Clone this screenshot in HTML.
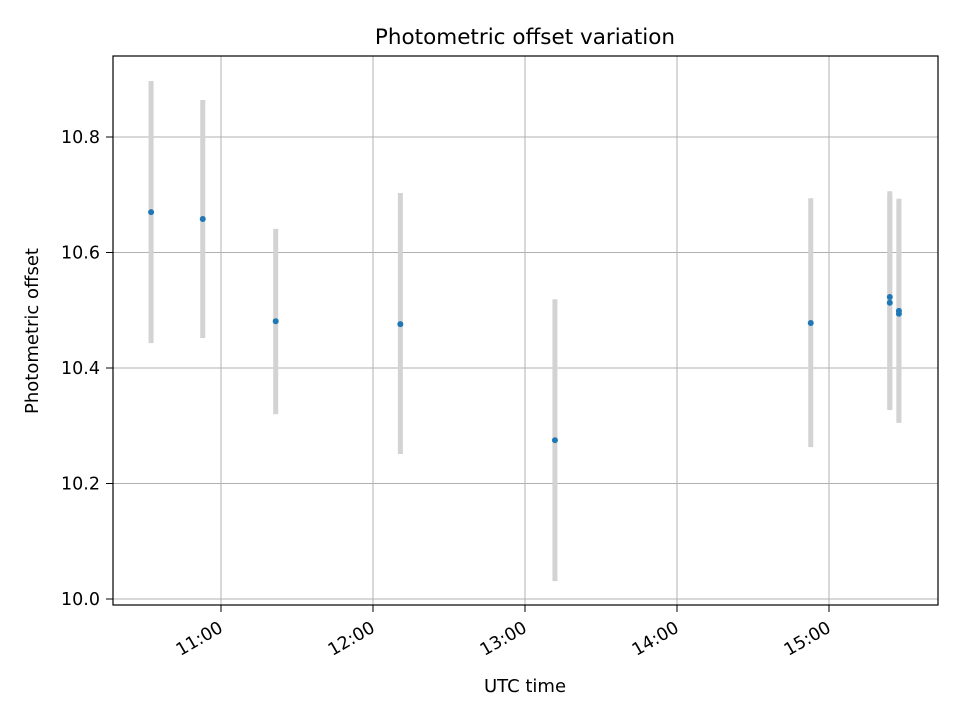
<!DOCTYPE html>
<html><head><meta charset="utf-8"><style>
body{margin:0;background:#fff;}
svg text{font-family:"DejaVu Sans","Liberation Sans",sans-serif;fill:#000;}
</style></head><body>
<svg id="chart" width="960" height="720">
<rect width="960" height="720" fill="#fff"/>
<g id="grid"></g><g id="bars"></g><g id="pts"></g><g id="axes"></g>
<rect x="113" y="56" width="825" height="549" fill="none" stroke="#000" stroke-width="1.2"/>
<text x="525" y="44" style="font-size:21.5px" text-anchor="middle">Photometric offset variation</text>
<text x="525" y="692" style="font-size:18px" text-anchor="middle">UTC time</text>
<text transform="translate(38,331) rotate(-90)" style="font-size:18px" text-anchor="middle">Photometric offset</text>
</svg>
<script>
const times=[10.54,10.88,11.36,12.18,13.197,14.88,15.40,15.40,15.46,15.46];
const values=[10.670,10.658,10.481,10.476,10.275,10.478,10.523,10.513,10.499,10.494];
const upper=[10.897,10.864,10.641,10.703,10.519,10.694,10.706,10.697,10.693,10.690];
const lower=[10.443,10.452,10.320,10.251,10.031,10.263,10.327,10.330,10.305,10.307];
const xTicks=[11,12,13,14,15];
const xTickLabels=["11:00","12:00","13:00","14:00","15:00"];
const yTicks=[10.0,10.2,10.4,10.6,10.8];
const yTickLabels=["10.0","10.2","10.4","10.6","10.8"];
const ns="http://www.w3.org/2000/svg";
const X=t=>221+(t-11)*152;
const Y=v=>599-(v-10)*577.5;
function mk(tag,attrs,parent){const e=document.createElementNS(ns,tag);for(const k in attrs)e.setAttribute(k,attrs[k]);document.getElementById(parent).appendChild(e);return e;}
xTicks.forEach((t,i)=>{
 const g=mk('line',{x1:X(t),x2:X(t),y1:56,y2:605,stroke:'#b0b0b0','stroke-width':1},'grid');
 
 
 const tk=mk('line',{x1:X(t),x2:X(t),y1:605,y2:612,stroke:'#000'},'axes');
 
 
 const tx=mk('text',{x:0,y:0,style:'font-size:17.5px','text-anchor':'end',transform:`translate(${X(t)+3},${631}) rotate(-30)`},'axes');
 tx.textContent=xTickLabels[i];
 
 
});
yTicks.forEach((v,i)=>{
 const g=mk('line',{x1:113,x2:938,y1:Y(v),y2:Y(v),stroke:'#b0b0b0','stroke-width':1},'grid');
 
 
 const tk=mk('line',{x1:106,x2:113,y1:Y(v),y2:Y(v),stroke:'#000'},'axes');
 
 
 const tx=mk('text',{x:100,y:Y(v)+6,style:'font-size:17.5px','text-anchor':'end'},'axes');
 tx.textContent=yTickLabels[i];
 
 
});
times.forEach((t,i)=>{
 const b=mk('line',{x1:X(t),x2:X(t),y1:Y(upper[i]),y2:Y(lower[i]),stroke:'#d3d3d3','stroke-width':5},'bars');
 
 
 const p=mk('circle',{cx:X(t),cy:Y(values[i]),r:3,fill:'#1f77b4'},'pts');
 
 
});
</script>
</body></html>
